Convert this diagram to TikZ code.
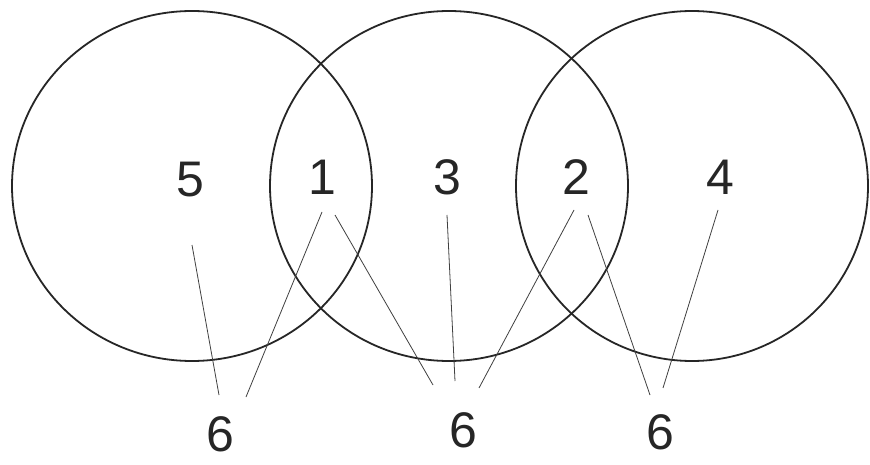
\documentclass[tikz,border=0pt]{standalone}
\usepackage{fontspec}
\setmainfont{Liberation Sans}
\begin{document}
\begin{tikzpicture}[x=1pt,y=-1pt,
  ring/.style={draw=black!85,line width=1.8pt},
  digit/.style={inner sep=0pt,font=\fontsize{50}{54}\selectfont,text=black!85},
  leader/.style={draw=black!75,line width=0.8pt}]
\useasboundingbox (0,0) rectangle (870,465);
\fill[white] (0,0) rectangle (870,465);
% circles
\draw[ring] (192,186) ellipse [x radius=180,y radius=175];
\draw[ring] (449,186) ellipse [x radius=179,y radius=175];
\draw[ring] (692,186) ellipse [x radius=176,y radius=175];
% digits
\node[digit] (n5) at (190,180) {5};
\node[digit] (n1) at (322,177) {1};
\node[digit] (n3) at (447,177) {3};
\node[digit] (n2) at (576,177) {2};
\node[digit] (n4) at (720,177) {4};
\node[digit] (s1) at (220,434) {6};
\node[digit] (s2) at (463,430) {6};
\node[digit] (s3) at (660,432) {6};
% line ends
\coordinate (a5) at (192,245);
\coordinate (b5) at (219,395);
\coordinate (a1l) at (322,212);
\coordinate (b1l) at (246,397);
\coordinate (a1r) at (335,215);
\coordinate (b1r) at (433,385);
\coordinate (a3) at (447,215);
\coordinate (b3) at (455,381);
\coordinate (a2l) at (574,210);
\coordinate (b2l) at (479,388);
\coordinate (a2r) at (588,215);
\coordinate (b2r) at (650,395);
\coordinate (a4) at (718,210);
\coordinate (b4) at (663,388);
\draw[leader] (a5) -- (b5);
\draw[leader] (a1l) -- (b1l);
\draw[leader] (a1r) -- (b1r);
\draw[leader] (a3) -- (b3);
\draw[leader] (a2l) -- (b2l);
\draw[leader] (a2r) -- (b2r);
\draw[leader] (a4) -- (b4);
\end{tikzpicture}
\end{document}
